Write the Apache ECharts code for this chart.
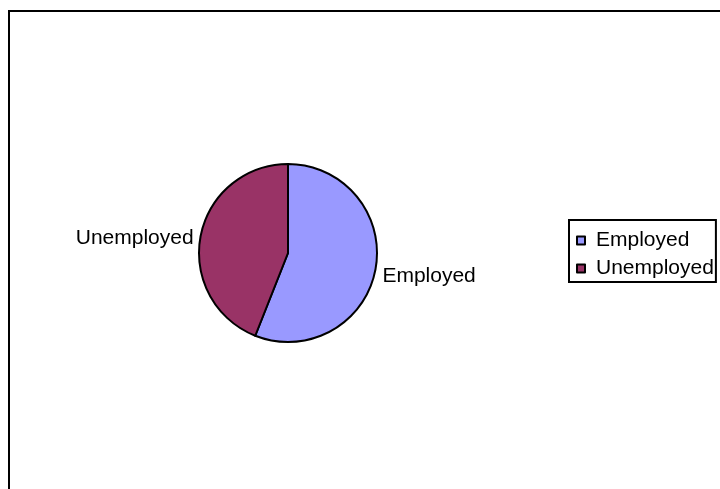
<!DOCTYPE html>
<html>
<head>
<meta charset="utf-8">
<script src="https://cdn.jsdelivr.net/npm/echarts@6/dist/echarts.min.js"></script>
<style>
  html, body { margin: 0; padding: 0; background: #fff; }
  #chart { width: 720px; height: 489px; }
</style>
</head>
<body>
<div id="chart"></div>
<script>
// Employment status shares
const categories = ['Employed', 'Unemployed'];
const shares = [56, 44];
const colors = ['#9999FF', '#993366'];

const FONT = 'Liberation Sans, Arial, sans-serif';

const chart = echarts.init(document.getElementById('chart'), null, { renderer: 'canvas' });

chart.setOption({
  backgroundColor: '#ffffff',
  animation: false,
  graphic: [
    {
      type: 'rect',
      shape: { x: 9, y: 11, width: 760, height: 520 },
      style: { fill: 'none', stroke: '#000', lineWidth: 2 },
      silent: true
    }
  ],
  legend: {
    orient: 'vertical',
    left: 569,
    top: 220,
    padding: [10, 2, 3, 7],
    backgroundColor: '#fff',
    borderColor: '#000',
    borderWidth: 2,
    itemWidth: 8,
    itemHeight: 8,
    itemGap: 7,
    icon: 'rect',
    itemStyle: { borderColor: '#000', borderWidth: 2 },
    textStyle: { fontFamily: FONT, fontSize: 21, color: '#000', lineHeight: 21, padding: [0, 0, 0, 6] },
    data: categories
  },
  series: [
    {
      type: 'pie',
      center: [288, 253],
      radius: [0, 89],
      startAngle: 90,
      clockwise: true,
      avoidLabelOverlap: false,
      itemStyle: { borderColor: '#000', borderWidth: 2 },
      label: {
        show: true,
        position: 'outside',
        formatter: '{b}',
        fontFamily: FONT,
        fontSize: 21,
        color: '#000',
        distanceToLabelLine: 5
      },
      labelLine: { show: false, length: 2, length2: 0 },
      // nudge the labels a little lower so they sit beside the slice edges
      labelLayout: function (params) {
        return { dy: params.dataIndex === 0 ? 6 : 2 };
      },
      emphasis: { disabled: true },
      data: categories.map((name, i) => ({
        name: name,
        value: shares[i],
        itemStyle: { color: colors[i] }
      }))
    }
  ]
});
</script>
</body>
</html>
